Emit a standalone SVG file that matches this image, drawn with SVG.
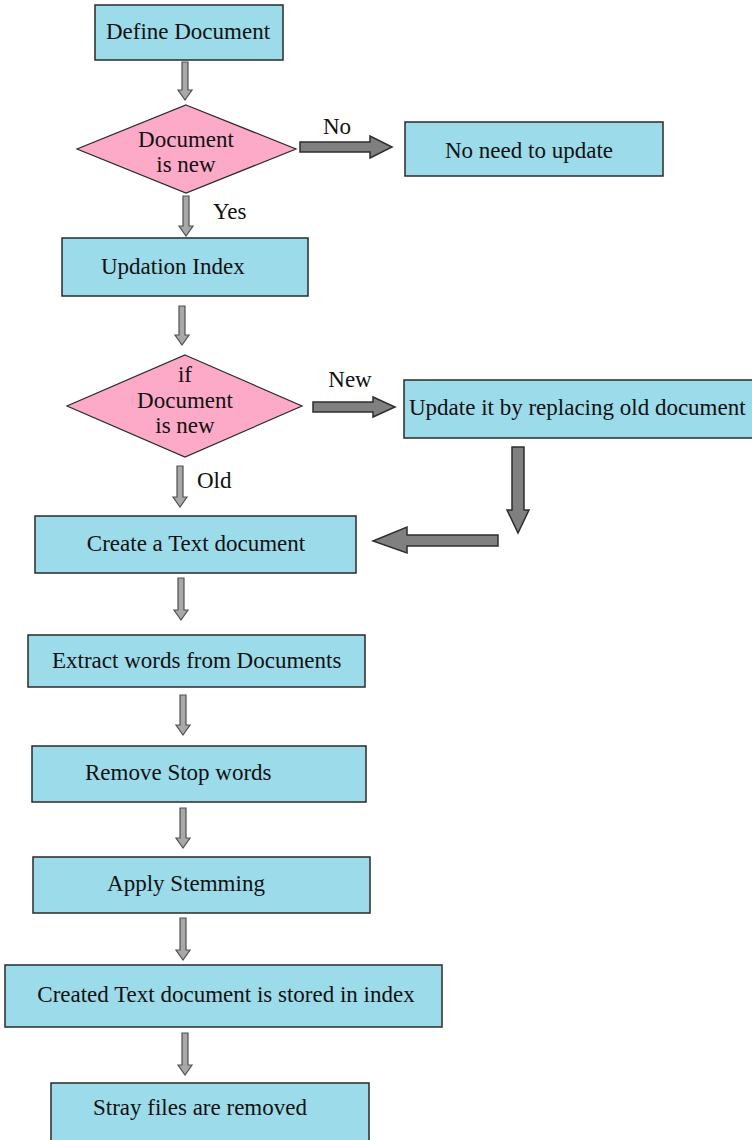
<svg xmlns="http://www.w3.org/2000/svg" width="752" height="1140" viewBox="0 0 752 1140">
<style>
.box{fill:#9cdbea;stroke:#2a2a2a;stroke-width:1.5}
.dia{fill:#fdaac8;stroke:#2a2a2a;stroke-width:1.2}
.t{font-family:"Liberation Serif","Times New Roman",serif;font-size:23px;fill:#111}
.c{text-anchor:middle}
.sa{fill:#a8a8a8;stroke:#505050;stroke-width:1.2;stroke-linejoin:miter}
.ta{fill:#808080;stroke:#2e2e2e;stroke-width:1.5;stroke-linejoin:miter}
</style>
<rect width="752" height="1140" fill="#ffffff"/>
<g id="connectors">
<path class="sa" d="M182 62h6v28h4l-7 10l-7-10h4z"/>
<path class="sa" d="M183 196h6v30h4l-7 10l-7-10h4z"/>
<path class="sa" d="M179 306h6v29h4l-7 10l-7-10h4z"/>
<path class="sa" d="M177 466h6v31h4l-7 10l-7-10h4z"/>
<path class="sa" d="M178 578h6v32h4l-7 10l-7-10h4z"/>
<path class="sa" d="M180 695h6v30h4l-7 10l-7-10h4z"/>
<path class="sa" d="M180 808h6v30h4l-7 10l-7-10h4z"/>
<path class="sa" d="M180 918h6v32h4l-7 10l-7-10h4z"/>
<path class="sa" d="M182 1033h6v32h4l-7 10l-7-10h4z"/>
<path class="ta" d="M300 142h70v-6l22 11l-22 11v-6h-70z"/>
<path class="ta" d="M313 402h60v-5l22 10l-22 10v-5h-60z"/>
<path class="ta" d="M512 447h12v63h5l-11 23l-11-23h5z"/>
<path class="ta" d="M498 535h-91v-8l-34 14l34 12v-7h91z"/>
<text class="t c" x="337" y="134">No</text>
<text class="t" x="213" y="219">Yes</text>
<text class="t c" x="350" y="387">New</text>
<text class="t" x="197" y="488">Old</text>
</g>
<g id="n1"><rect class="box" x="95" y="5" width="188" height="55"/><text class="t c" x="188" y="39">Define Document</text></g>
<g id="n2"><polygon class="dia" points="186,105 296,149 186,193 77,149"/><text class="t c" x="186" y="147">Document</text><text class="t c" x="186" y="172">is new</text></g>
<g id="n3"><rect class="box" x="405" y="122" width="258" height="54"/><text class="t c" x="529" y="158">No need to update</text></g>
<g id="n4"><rect class="box" x="62" y="238" width="246" height="58"/><text class="t" x="101" y="274">Updation Index</text></g>
<g id="n5"><polygon class="dia" points="185,355 302,406 185,457 67,406"/><text class="t c" x="185" y="382">if</text><text class="t c" x="185" y="408">Document</text><text class="t c" x="185" y="433">is new</text></g>
<g id="n6"><rect class="box" x="404" y="380" width="350" height="58"/><text class="t" x="409" y="415">Update it by replacing old document</text></g>
<g id="n7"><rect class="box" x="35" y="516" width="321" height="57"/><text class="t c" x="196" y="551">Create a Text document</text></g>
<g id="n8"><rect class="box" x="28" y="635" width="337" height="52"/><text class="t" x="52" y="668">Extract words from Documents</text></g>
<g id="n9"><rect class="box" x="32" y="746" width="334" height="56"/><text class="t" x="85" y="780">Remove Stop words</text></g>
<g id="n10"><rect class="box" x="33" y="857" width="337" height="56"/><text class="t c" x="186" y="891">Apply Stemming</text></g>
<g id="n11"><rect class="box" x="5" y="965" width="437" height="62"/><text class="t c" x="226" y="1002">Created Text document is stored in index</text></g>
<g id="n12"><rect class="box" x="51" y="1083" width="318" height="62"/><text class="t c" x="200" y="1115">Stray files are removed</text></g>
</svg>
